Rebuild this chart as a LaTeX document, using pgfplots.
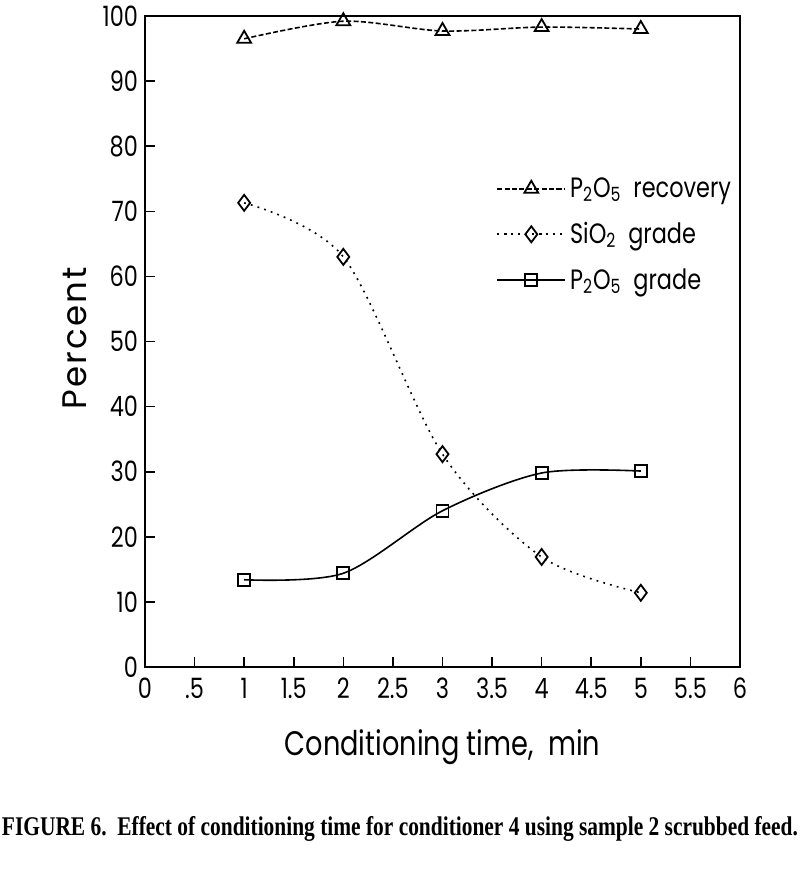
\documentclass[border=0pt]{standalone}
\usepackage{pgfplots}
\pgfplotsset{compat=1.18}
\usepackage{fontspec}
\setmainfont{Liberation Serif}
\newfontfamily\chartfont[FakeStretch=0.8]{Poppins}
\newfontfamily\labfont[LetterSpace=6]{Poppins}

\begin{document}
\begin{tikzpicture}
  \begin{axis}[name=main, scale only axis, width=297.5pt, height=325.5pt,
      xmin=0, xmax=6, ymin=0, ymax=100,
      xtick={0,0.5,...,6}, xticklabels={0,.5,1,1.5,2,2.5,3,3.5,4,4.5,5,5.5,6},
      ytick={0,10,...,100},
      tick pos=left, tick align=inside, major tick length=5pt,
      axis line style={line width=1pt}, tick style={line width=0.8pt, black},
      /pgf/number format/assume math mode=true,
      ticklabel style={font=\chartfont\fontsize{14}{16}\selectfont},
      xticklabel style={yshift=-2pt},
      xlabel={Conditioning time,\ \ min}, ylabel={Percent},
      xlabel style={font=\chartfont\fontsize{17}{19}\selectfont,
                    at={(axis description cs:0.5,-0.123)}, anchor=center},
      ylabel style={font=\labfont\fontsize{17}{19}\selectfont,
                    at={(axis description cs:-0.118,0.505)}, anchor=center},
      legend style={draw=none, fill=none, at={(0.58,0.765)}, anchor=north west,
                    font=\chartfont\fontsize{14}{16}\selectfont, row sep=7pt},
      legend cell align=left,
      legend image code/.code={\draw[mark repeat=2, mark phase=2]
          plot coordinates {(0pt,0pt) (17pt,0pt) (34pt,0pt)};},
      every axis plot/.append style={line width=0.8pt, black,
          mark options={solid, fill=white, line width=0.9pt}}]
    \addplot[smooth, dash pattern=on 2.5pt off 1.2pt, mark=triangle, mark size=4pt]
      coordinates {(1,96.5) (2,99.2) (3,97.7) (4,98.3) (5,98.0)};
    \addplot[smooth, dash pattern=on 0.9pt off 2.6pt, mark=diamond, mark size=4pt]
      coordinates {(1,71.3) (2,63.0) (3,32.7) (4,16.9) (5,11.4)};
    \addplot[smooth, mark=square, mark size=3pt]
      coordinates {(1,13.4) (2,14.4) (3,24.0) (4,29.8) (5,30.1)};
    \legend{P\textsubscript{2}O\textsubscript{5}\ \ recovery,
            SiO\textsubscript{2}\ \ grade,
            P\textsubscript{2}O\textsubscript{5}\ \ grade}
  \end{axis}
  \node[anchor=center, font=\bfseries\fontsize{13.5}{15}\selectfont]
    at ([xshift=-21.25pt, yshift=-81pt]main.south)
    {\resizebox{398pt}{\height}{FIGURE 6.\ \ Effect of conditioning time for conditioner 4 using sample 2 scrubbed feed.}};
  \pgfresetboundingbox
  \path[use as bounding box] ([xshift=-72.5pt, yshift=-101pt]main.south west)
    rectangle ([xshift=30pt, yshift=8pt]main.north east);
\end{tikzpicture}
\end{document}
